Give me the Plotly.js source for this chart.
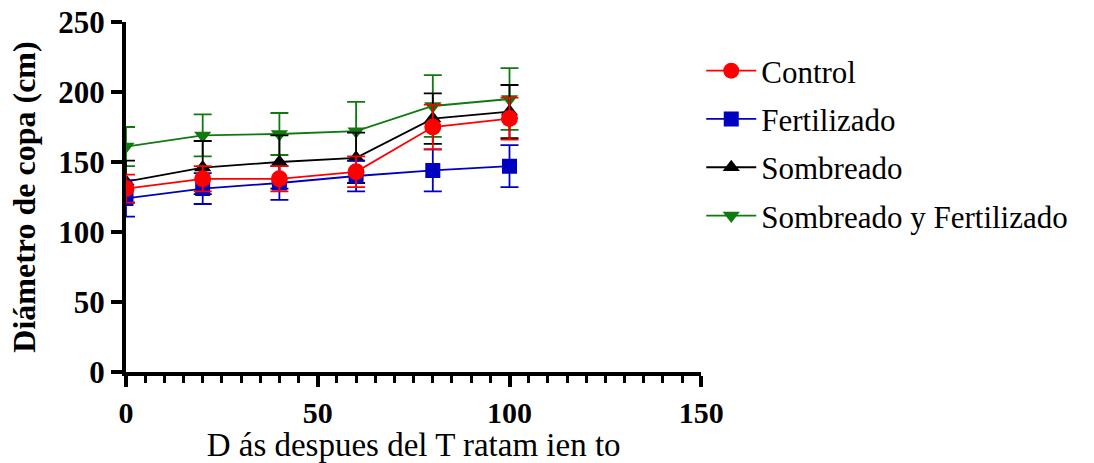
<!DOCTYPE html>
<html>
<head>
<meta charset="utf-8">
<script src="https://cdn.plot.ly/plotly-3.0.1.min.js"></script>
<style>html,body{margin:0;padding:0;background:#fff;}#chart{width:1094px;height:463px;}</style>
</head>
<body>
<div id="chart"></div>
<script>
const days = [0, 20, 40, 60, 80, 100];
const seriesNames = ["Control", "Fertilizado", "Sombreado", "Sombreado y Fertilizado"];
const control = [131, 138, 138, 143, 175, 181];
const controlErr = [10, 9, 9, 11, 16, 15];
const fertilizado = [124, 131, 135, 140, 144, 147];
const fertilizadoErr = [13, 11, 12, 11, 15, 15];
const sombreado = [136, 146, 150, 153, 181, 186];
const sombreadoErr = [15, 19, 19, 18, 18, 19];
const sombFert = [161, 169, 170, 172, 190, 195];
const sombFertErr = [14, 15, 15, 21, 22, 22];
const xTicks = [0, 50, 100, 150];
const yTicks = [0, 50, 100, 150, 200, 250];

const SERIF = '"Liberation Serif", "Times New Roman", Times, serif';

function mk(name, y, err, color, symbol, msize, group, rank) {
  return {
    x: days, y: y, name: name, type: 'scatter', mode: 'lines+markers',
    legendgroup: group, legendrank: rank,
    line: {color: color, width: 1.8},
    marker: {color: color, symbol: symbol, size: msize},
    error_y: {type: 'data', array: err, visible: true, color: color, thickness: 1.8, width: 9}
  };
}

const traces = [
  mk(seriesNames[3], sombFert, sombFertErr, '#107a10', 'triangle-down', 15, 'd', 4),
  mk(seriesNames[2], sombreado, sombreadoErr, '#000000', 'triangle-up', 15, 'c', 3),
  mk(seriesNames[1], fertilizado, fertilizadoErr, '#0000c0', 'square', 15, 'b', 2),
  mk(seriesNames[0], control, controlErr, '#ff0000', 'circle', 17, 'a', 1)
];

const layout = {
  width: 1094, height: 463,
  margin: {l: 126, r: 386, t: 22, b: 91},
  paper_bgcolor: '#fff', plot_bgcolor: '#fff',
  showlegend: true,
  legend: {
    xref: 'container', yref: 'container',
    x: 0.641, xanchor: 'left', y: 0.905, yanchor: 'top',
    traceorder: 'grouped', tracegroupgap: 5,
    itemwidth: 50,
    font: {family: SERIF, size: 31, color: '#000'}
  },
  xaxis: {
    range: [0, 150], tickvals: xTicks, ticktext: xTicks.map(String),
    showgrid: false, zeroline: false,
    showline: true, linecolor: '#000', linewidth: 4,
    ticks: 'outside', ticklen: 11, tickwidth: 4, tickcolor: '#000',
    minor: {dtick: 5, ticks: 'outside', ticklen: 7, tickwidth: 3, tickcolor: '#000', showgrid: false},
    tickfont: {family: SERIF, size: 30, color: '#000', weight: 'bold'},
    title: {text: 'D ás despues del T ratam ien to', font: {family: SERIF, size: 33, color: '#000'}, standoff: 12}
  },
  yaxis: {
    range: [0, 250], tickvals: yTicks, ticktext: yTicks.map(String),
    showgrid: false, zeroline: false,
    showline: true, linecolor: '#000', linewidth: 4,
    ticks: 'outside', ticklen: 11, tickwidth: 4, tickcolor: '#000',
    tickfont: {family: SERIF, size: 31, color: '#000', weight: 'bold'},
    title: {text: 'Diámetro de copa (cm)', font: {family: SERIF, size: 32, color: '#000', weight: 'bold'}, standoff: 14}
  }
};

Plotly.newPlot('chart', traces, layout, {displayModeBar: false, staticPlot: true});
</script>
</body>
</html>
